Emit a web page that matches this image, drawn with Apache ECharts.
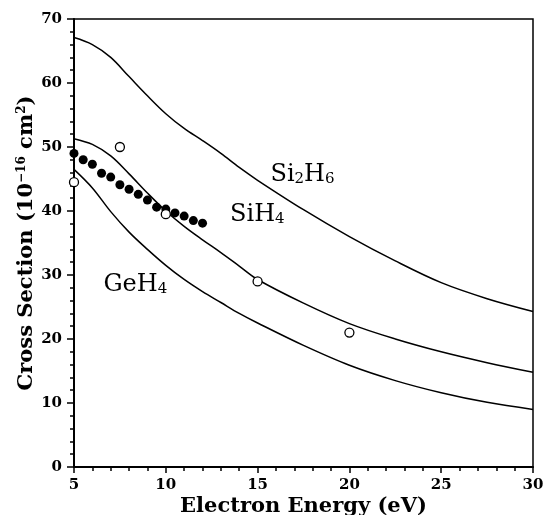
<!DOCTYPE html>
<html>
<head>
<meta charset="utf-8">
<script src="https://cdn.jsdelivr.net/npm/echarts@6/dist/echarts.min.js"></script>
<style>
  html, body { margin: 0; padding: 0; background: #fff; }
  #chart { width: 545px; height: 515px; }
</style>
</head>
<body>
<div id="chart"></div>
<script>
// energy grid of the theory curves (eV)
var curveX = [5, 6, 7, 8, 9, 10, 11, 12, 13, 14, 15, 17.5, 20, 22.5, 25, 27.5, 30];
// cross sections, 10^-16 cm^2
var si2h6 = [67.1, 66.0, 64.0, 61.0, 58.0, 55.2, 52.9, 51.0, 49.0, 46.8, 44.8, 40.2, 36.0, 32.2, 28.8, 26.3, 24.3];
var sih4  = [51.3, 50.4, 48.6, 45.8, 42.8, 40.0, 37.6, 35.5, 33.5, 31.4, 29.3, 25.6, 22.4, 20.0, 18.0, 16.3, 14.8];
var geh4  = [46.5, 43.6, 39.9, 36.7, 34.0, 31.5, 29.3, 27.4, 25.7, 24.0, 22.5, 19.0, 15.9, 13.5, 11.6, 10.1, 9.0];

// measured SiH4 (filled circles)
var filledX = [5, 5.5, 6, 6.5, 7, 7.5, 8, 8.5, 9, 9.5, 10, 10.5, 11, 11.5, 12];
var filledY = [49.0, 48.0, 47.3, 45.9, 45.3, 44.1, 43.4, 42.6, 41.7, 40.6, 40.3, 39.7, 39.2, 38.5, 38.1];
// measured SiH4 (open circles)
var openX = [5, 7.5, 10, 15, 20];
var openY = [44.5, 50.0, 39.5, 29.0, 21.0];

// curve labels, placed in data coordinates
var labelText = ['Si2H6', 'SiH4', 'GeH4'];
var labelX = [15.7, 13.5, 6.6];
var labelY = [45.7, 39.4, 28.5];

var xTicks = [5, 30, 5];   // min, max, interval
var yTicks = [0, 70, 10];

function pairs(xs, ys) {
  var out = [];
  for (var i = 0; i < xs.length; i++) out.push([xs[i], ys[i]]);
  return out;
}
// 'SiH4' -> rich text with subscript digits
function chem(s) {
  return s.replace(/([A-Za-z]+)|(\d+)/g, function (m, a, d) {
    return a ? '{n|' + a + '}' : '{s|' + d + '}';
  });
}

var chart = echarts.init(document.getElementById('chart'));
var serif = '"DejaVu Serif", "Liberation Serif", serif';

function curve(data) {
  return {
    type: 'line', data: data, smooth: 0.35, symbol: 'none',
    lineStyle: { color: '#000', width: 1.5 }, z: 2, silent: true
  };
}

var labelData = [];
for (var i = 0; i < labelText.length; i++) {
  labelData.push({ value: [labelX[i], labelY[i]], name: labelText[i] });
}

chart.setOption({
  backgroundColor: '#fff',
  animation: false,
  grid: {
    left: 74, right: 12, top: 19, bottom: 48, containLabel: false, outerBoundsMode: 'none',
    show: true, borderColor: '#000', borderWidth: 1.5
  },
  xAxis: {
    type: 'value', min: xTicks[0], max: xTicks[1], interval: xTicks[2],
    name: 'Electron Energy (eV)', nameLocation: 'middle', nameGap: 29, nameMoveOverlap: false,
    nameTextStyle: { fontFamily: serif, fontWeight: 'bold', fontSize: 21, color: '#000' },
    axisLine: { lineStyle: { color: '#000', width: 2 } },
    axisTick: { inside: false, length: 6, lineStyle: { color: '#000', width: 1.5 } },
    minorTick: { show: true, splitNumber: 5, length: 4, lineStyle: { color: '#000', width: 1.5 } },
    axisLabel: { fontFamily: serif, fontWeight: 'bold', fontSize: 15, color: '#000', margin: 11 },
    splitLine: { show: false }
  },
  yAxis: {
    type: 'value', min: yTicks[0], max: yTicks[1], interval: yTicks[2],
    name: '{t|Cross Section (10}{p|−16}{t| cm}{p|2}{t|)}', nameLocation: 'middle', nameGap: 37,
    nameMoveOverlap: false,
    nameTextStyle: {
      rich: {
        t: { fontFamily: serif, fontWeight: 'bold', fontSize: 21, color: '#000' },
        p: { fontFamily: serif, fontWeight: 'bold', fontSize: 12, color: '#000', verticalAlign: 'top' }
      }
    },
    axisLine: { lineStyle: { color: '#000', width: 2 } },
    axisTick: { inside: false, length: 7, lineStyle: { color: '#000', width: 1.5 } },
    minorTick: { show: true, splitNumber: 5, length: 4, lineStyle: { color: '#000', width: 1.5 } },
    axisLabel: { fontFamily: serif, fontWeight: 'bold', fontSize: 15, color: '#000', margin: 12 },
    splitLine: { show: false }
  },
  series: [
    curve(pairs(curveX, si2h6)),
    curve(pairs(curveX, sih4)),
    curve(pairs(curveX, geh4)),
    {
      type: 'scatter', data: pairs(filledX, filledY), symbol: 'circle', symbolSize: 9,
      itemStyle: { color: '#000', opacity: 1 }, z: 3, silent: true
    },
    {
      type: 'scatter', data: pairs(openX, openY), symbol: 'circle', symbolSize: 9,
      itemStyle: { color: '#fff', borderColor: '#000', borderWidth: 1.3, opacity: 1 }, z: 4, silent: true
    },
    {
      type: 'scatter', data: labelData, symbolSize: 0, silent: true, z: 5,
      itemStyle: { opacity: 1 },
      label: {
        show: true, position: 'right', distance: 0, color: '#000', opacity: 1,
        formatter: function (p) { return chem(p.name); },
        rich: {
          n: { fontFamily: serif, fontSize: 24, color: '#000' },
          s: { fontFamily: serif, fontSize: 15, color: '#000', verticalAlign: 'bottom' }
        }
      }
    }
  ]
});
</script>
</body>
</html>
